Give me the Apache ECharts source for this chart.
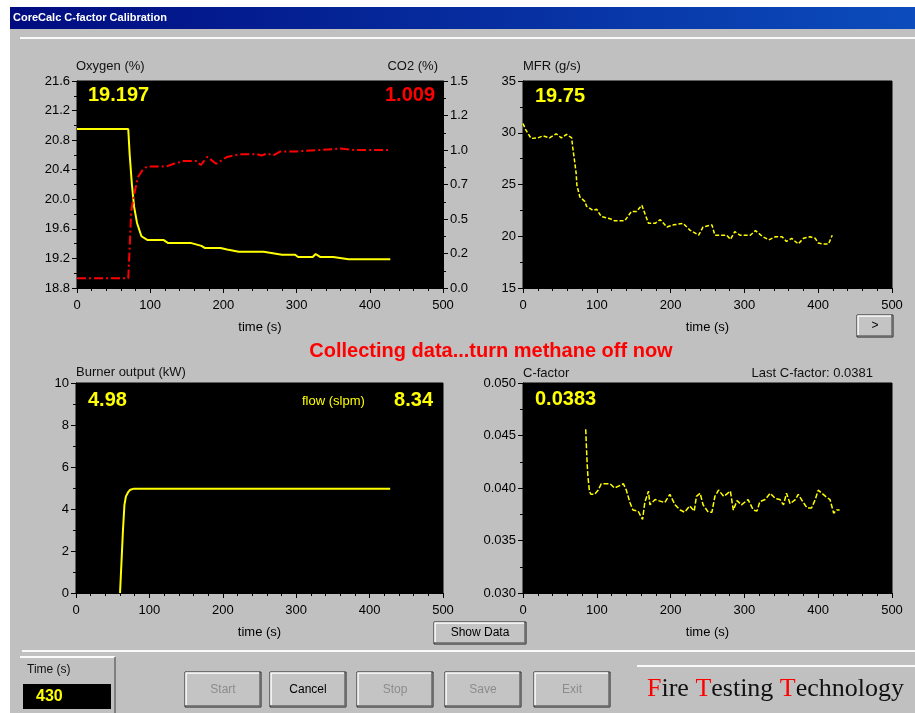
<!DOCTYPE html>
<html><head><meta charset="utf-8">
<script src="https://cdn.jsdelivr.net/npm/echarts@6/dist/echarts.min.js"></script>
<style>html,body{margin:0;padding:0;background:#fff}#c{width:915px;height:713px}</style>
</head><body><div id="c"></div>
<script>
// ---- data: [time (s), value] ----
const oxygen = [[0,20.95],[70,20.95],[72,20.6],[75,20.2],[78,19.9],[82,19.68],[88,19.5],[96,19.45],[118,19.45],[124,19.41],[155,19.41],[170,19.37],[175,19.34],[196,19.34],[205,19.32],[221,19.29],[255,19.29],[280,19.25],[298,19.25],[302,19.22],[322,19.22],[326,19.26],[332,19.22],[350,19.22],[371,19.19],[428,19.19]];
const co2 = [[0,0.07],[70,0.07],[72,0.3],[74,0.55],[76,0.62],[79,0.7],[83,0.8],[90,0.86],[96,0.88],[122,0.88],[132,0.9],[146,0.92],[164,0.92],[169,0.89],[178,0.95],[190,0.9],[205,0.95],[223,0.97],[246,0.97],[252,0.96],[260,0.975],[268,0.96],[278,0.99],[300,0.99],[330,1.0],[360,1.01],[380,1.0],[428,1.0]];
const mfr = [[0,30.9],[4,30.25],[11,29.45],[20,29.5],[27,29.7],[36,29.5],[45,29.9],[52,29.5],[59,29.85],[66,29.5],[67,28.8],[70,27.2],[72,26.1],[73,24.95],[77,23.8],[84,23.35],[86,22.9],[95,22.5],[100,22.6],[106,21.9],[118,21.7],[124,21.5],[138,21.5],[147,22.4],[154,22.4],[161,23.0],[170,21.25],[179,21.25],[186,21.6],[195,20.9],[204,21.1],[217,21.25],[226,20.6],[238,20.1],[244,20.9],[256,21.1],[260,20.1],[276,20.1],[281,19.7],[287,20.45],[294,20.1],[308,20.1],[315,20.55],[324,20.0],[333,19.65],[342,19.95],[351,19.95],[357,19.5],[364,19.8],[373,19.25],[380,19.8],[389,19.95],[396,19.8],[400,19.35],[407,19.25],[414,19.25],[419,20.1]];
const burner = [[60,0],[62,1.5],[64,3],[66,4.2],[68,4.6],[71,4.8],[74,4.92],[79,4.97],[428,4.97]];
const cfactor = [[85,0.0456],[86,0.0438],[87,0.0422],[88,0.0411],[90,0.0397],[92,0.0394],[97,0.0394],[102,0.0398],[106,0.0404],[118,0.0404],[124,0.0400],[136,0.0404],[140,0.0398],[145,0.0386],[149,0.0379],[156,0.0378],[162,0.0370],[165,0.0386],[170,0.0397],[172,0.0384],[179,0.0389],[188,0.0387],[192,0.0386],[199,0.0394],[206,0.0384],[213,0.0379],[219,0.0377],[226,0.0383],[232,0.0378],[235,0.0392],[240,0.0395],[244,0.0384],[251,0.0377],[256,0.0377],[260,0.0392],[265,0.0398],[272,0.0392],[281,0.0397],[285,0.0379],[290,0.0388],[296,0.0384],[305,0.0389],[312,0.0379],[317,0.0378],[321,0.0387],[328,0.0389],[335,0.0395],[342,0.0390],[348,0.0389],[353,0.0384],[357,0.0395],[362,0.0385],[369,0.0389],[373,0.0394],[380,0.0386],[385,0.0381],[391,0.0381],[396,0.0389],[400,0.0398],[410,0.0392],[416,0.0389],[421,0.0376],[425,0.0379],[429,0.0379]];

// ---- readouts & labels ----
const readouts = {oxygen:'19.197', co2:'1.009', mfr:'19.75', burner:'4.98', flow:'8.34', cfactor:'0.0383', lastC:'0.0381', time:'430'};
const buttons = ['Start','Cancel','Stop','Save','Exit'];
const buttonEnabled = [false,true,false,false,false];

const FONT = 'Liberation Sans';
const chart = echarts.init(document.getElementById('c'));

function xAx(gi){
  return {type:'value', gridIndex:gi, min:0, max:500, interval:100,
    axisLine:{show:true, lineStyle:{color:'#000', width:1}},
    axisTick:{show:true, length:5, lineStyle:{color:'#000'}},
    minorTick:{show:true, splitNumber:5, length:3, lineStyle:{color:'#000'}},
    splitLine:{show:false},
    axisLabel:{color:'#000', fontSize:13, margin:11, fontFamily:FONT},
    name:'time (s)', nameLocation:'middle', nameGap:33,
    nameTextStyle:{color:'#000', fontSize:13, fontFamily:FONT}};
}
function yAx(gi, min, max, interval, fmt, pos){
  return {type:'value', gridIndex:gi, min:min, max:max, interval:interval, position:pos||'left',
    axisLine:{show:true, lineStyle:{color:'#000'}},
    axisTick:{show:true, length:5, lineStyle:{color:'#000'}},
    minorTick:{show:true, splitNumber:2, length:3, lineStyle:{color:'#000'}},
    splitLine:{show:false},
    axisLabel:{color:'#000', fontSize:13, margin:7, fontFamily:FONT, formatter:fmt}};
}
function gridAt(l,t,w,h){ return {left:l, top:t, width:w, height:h, show:true, backgroundColor:'#000', borderColor:'#000', containLabel:false}; }
function txt(x,y,s,opt){
  return Object.assign({type:'text', x:x, y:y, silent:true, z:50,
    style:Object.assign({text:s, fill:'#111', font:'13px '+FONT, textVerticalAlign:'middle'}, opt||{})});
}
function bevelButton(x,y,w,h,label,enabled){
  return [
    {type:'rect', shape:{x:x,y:y,width:w,height:h}, style:{fill:'#c4c4c4', stroke:'#202020', lineWidth:1}, z:40, silent:true},
    {type:'polyline', shape:{points:[[x+1,y+h-2],[x+1,y+1],[x+w-2,y+1]]}, style:{stroke:'#ffffff', lineWidth:1.5, fill:null}, z:41, silent:true},
    {type:'polyline', shape:{points:[[x+1,y+h-1],[x+w-1,y+h-1],[x+w-1,y+1]]}, style:{stroke:'#6a6a6a', lineWidth:1.5, fill:null}, z:41, silent:true},
    txt(x+w/2, y+h/2, label, {fill: enabled ? '#000' : '#8c8c8c', font:'12px '+FONT, textAlign:'center'})
  ];
}

const graphics = [
  {type:'rect', shape:{x:10,y:7,width:905,height:706}, style:{fill:'#c0c0c0'}, z:-10, silent:true},
  {type:'rect', shape:{x:10,y:7,width:905,height:22}, style:{fill:new echarts.graphic.LinearGradient(0,0,1,0,[{offset:0,color:'#000c80'},{offset:1,color:'#0c4cbc'}])}, z:1, silent:true},
  txt(13,18,'CoreCalc C-factor Calibration',{fill:'#fff', font:'bold 11px '+FONT}),
  {type:'line', shape:{x1:20,y1:38,x2:915,y2:38}, style:{stroke:'#fafafa', lineWidth:2}, silent:true},
  {type:'line', shape:{x1:22,y1:651,x2:915,y2:651}, style:{stroke:'#fafafa', lineWidth:2}, silent:true},
  {type:'line', shape:{x1:20,y1:657,x2:115,y2:657}, style:{stroke:'#fafafa', lineWidth:2}, silent:true},
  {type:'line', shape:{x1:115,y1:657,x2:115,y2:713}, style:{stroke:'#6a6a6a', lineWidth:1.5}, silent:true},
  {type:'line', shape:{x1:637,y1:666,x2:915,y2:666}, style:{stroke:'#fafafa', lineWidth:2}, silent:true},
  txt(27,670,'Time (s)',{fill:'#111', font:'12px '+FONT}),
  {type:'rect', shape:{x:23,y:684,width:88,height:25}, style:{fill:'#000'}, z:40, silent:true},
  txt(36,697,readouts.time,{fill:'#ffff00', font:'bold 16px '+FONT}),
  // titles above plots
  txt(76,66,'Oxygen (%)'), txt(438,66,'CO2 (%)',{textAlign:'right'}),
  txt(523,66,'MFR (g/s)'),
  txt(76,372,'Burner output (kW)'),
  txt(523,373,'C-factor'),
  txt(873,373,'Last C-factor: ' + readouts.lastC,{textAlign:'right'}),
  // readouts
  txt(88,95,readouts.oxygen,{fill:'#ffff00', font:'bold 20px '+FONT}),
  txt(435,95,readouts.co2,{fill:'#ff0000', font:'bold 20px '+FONT, textAlign:'right'}),
  txt(535,96,readouts.mfr,{fill:'#ffff00', font:'bold 20px '+FONT}),
  txt(88,400,readouts.burner,{fill:'#ffff00', font:'bold 20px '+FONT}),
  txt(302,401,'flow (slpm)',{fill:'#ffff00', font:'13px '+FONT}),
  txt(433,400,readouts.flow,{fill:'#ffff00', font:'bold 20px '+FONT, textAlign:'right'}),
  txt(535,399,readouts.cfactor,{fill:'#ffff00', font:'bold 20px '+FONT}),
  // status message
  txt(491,351,'Collecting data...turn methane off now',{fill:'#ff0000', font:'bold 20px '+FONT, textAlign:'center'}),
  // brand
  txt(647,689,'',{rich:{r:{fill:'#ff0000', font:'26px Liberation Serif'}, k:{fill:'#111', font:'26px Liberation Serif'}},
      text:'{r|F}{k|ire }{r|T}{k|esting }{r|T}{k|echnology}'})
];
graphics.push(...bevelButton(857,315,36,22,'>',true));
graphics.push(...bevelButton(434,622,92,22,'Show Data',true));
const bx = [185,270,357,445,534];
buttons.forEach((b,i)=>graphics.push(...bevelButton(bx[i],672,76,35,b,buttonEnabled[i])));

chart.setOption({
  animation:false,
  backgroundColor:'#fff',
  grid:[gridAt(77,81,366,207), gridAt(523,81,369,207), gridAt(76,383,367,210), gridAt(523,383,369,210)],
  xAxis:[xAx(0), xAx(1), xAx(2), xAx(3)],
  yAxis:[
    yAx(0,18.8,21.6,0.4,v=>v.toFixed(1)),
    yAx(0,0,1.5,0.25,v=>(Math.floor(v*10+1e-6)/10).toFixed(1),'right'),
    yAx(1,15,35,5,v=>String(Math.round(v))),
    yAx(2,0,10,2,v=>String(Math.round(v))),
    yAx(3,0.030,0.050,0.005,v=>v.toFixed(3))
  ],
  series:[
    {type:'line', xAxisIndex:0, yAxisIndex:0, data:oxygen, showSymbol:false, lineStyle:{color:'#ffff00', width:2}, z:5},
    {type:'line', xAxisIndex:0, yAxisIndex:1, data:co2, showSymbol:false, lineStyle:{color:'#ff0000', width:2, type:[9,3,2,3]}, z:5},
    {type:'line', xAxisIndex:1, yAxisIndex:2, data:mfr, showSymbol:false, lineStyle:{color:'#ffff00', width:1.5, type:[4,2]}, z:5},
    {type:'line', xAxisIndex:2, yAxisIndex:3, data:burner, showSymbol:false, lineStyle:{color:'#ffff00', width:2}, z:5},
    {type:'line', xAxisIndex:3, yAxisIndex:4, data:cfactor, showSymbol:false, lineStyle:{color:'#ffff00', width:1.5, type:[5,2]}, z:5}
  ],
  graphic:graphics
});
</script></body></html>
